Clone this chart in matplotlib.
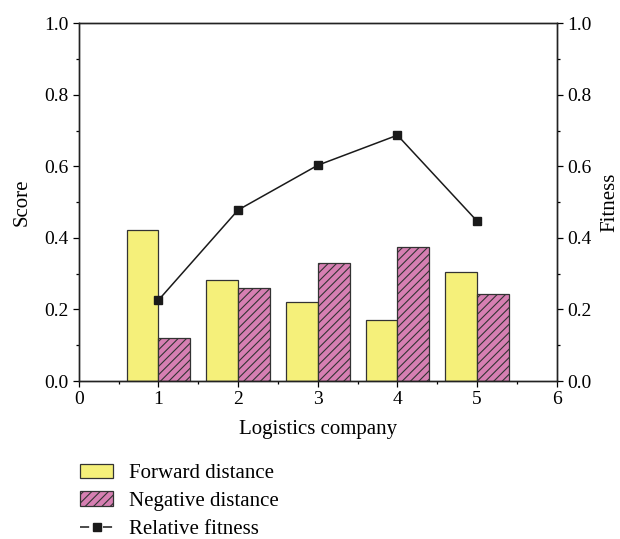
import numpy as np
import matplotlib
matplotlib.use('Agg')
import matplotlib.pyplot as plt
from matplotlib.ticker import MultipleLocator, FormatStrFormatter
from matplotlib.lines import Line2D

plt.rcParams['font.family'] = ['Liberation Serif', 'DejaVu Serif']
plt.rcParams['hatch.linewidth'] = 0.8

companies = [1, 2, 3, 4, 5]
forward = [0.422, 0.282, 0.220, 0.170, 0.304]
negative = [0.120, 0.260, 0.330, 0.374, 0.243]
fitness = [0.226, 0.478, 0.603, 0.687, 0.447]

fig = plt.figure(figsize=(6.2, 5.39), dpi=100)
ax = fig.add_axes([0.127, 0.293, 0.771, 0.664])

x = np.array(companies)
w = 0.4
b1 = ax.bar(x - w / 2, forward, width=w, color='#f5f07a', edgecolor='#333333', lw=0.9)
b2 = ax.bar(x + w / 2, negative, width=w, color='#d67fb2', edgecolor='#333333', lw=0.9,
            hatch='////')

ax2 = ax.twinx()
ax2.plot(x, fitness, color='#1a1a1a', lw=1.1, marker='s', markersize=6,
         markerfacecolor='#1a1a1a')

ax.set_xlim(0, 6)
ax.set_ylim(0, 1)
ax2.set_ylim(0, 1)
ax.xaxis.set_major_locator(MultipleLocator(1))
ax.xaxis.set_minor_locator(MultipleLocator(0.5))
for a in (ax, ax2):
    a.yaxis.set_major_locator(MultipleLocator(0.2))
    a.yaxis.set_minor_locator(MultipleLocator(0.1))
    a.yaxis.set_major_formatter(FormatStrFormatter('%.1f'))
    a.tick_params(which='both', direction='out', labelsize=14, width=0.9)
    a.tick_params(which='major', length=4)
    a.tick_params(which='minor', length=2.5)
    for s in a.spines.values():
        s.set_linewidth(1.0)
        s.set_color('#222222')
ax.tick_params(axis='y', right=False)

ax.set_xlabel('Logistics company', fontsize=15, labelpad=8)
ax.set_ylabel('Score', fontsize=15, labelpad=9)
ax2.set_ylabel('Fitness', fontsize=15, labelpad=6)

# legend line handle: short dashes either side of the marker
fit_handle = Line2D([], [], color='#1a1a1a', lw=1.1, marker='s', markersize=6,
                    markerfacecolor='#1a1a1a', dashes=(6.0, 9.0))

fig.legend([b1, b2, fit_handle], ['Forward distance', 'Negative distance', 'Relative fitness'],
           loc='upper left', bbox_to_anchor=(0.129, 0.140), frameon=False, fontsize=15,
           handlelength=1.6, handleheight=0.7, labelspacing=0.4, handletextpad=0.75,
           borderpad=0, borderaxespad=0)

fig.savefig('out.png', dpi=100)
